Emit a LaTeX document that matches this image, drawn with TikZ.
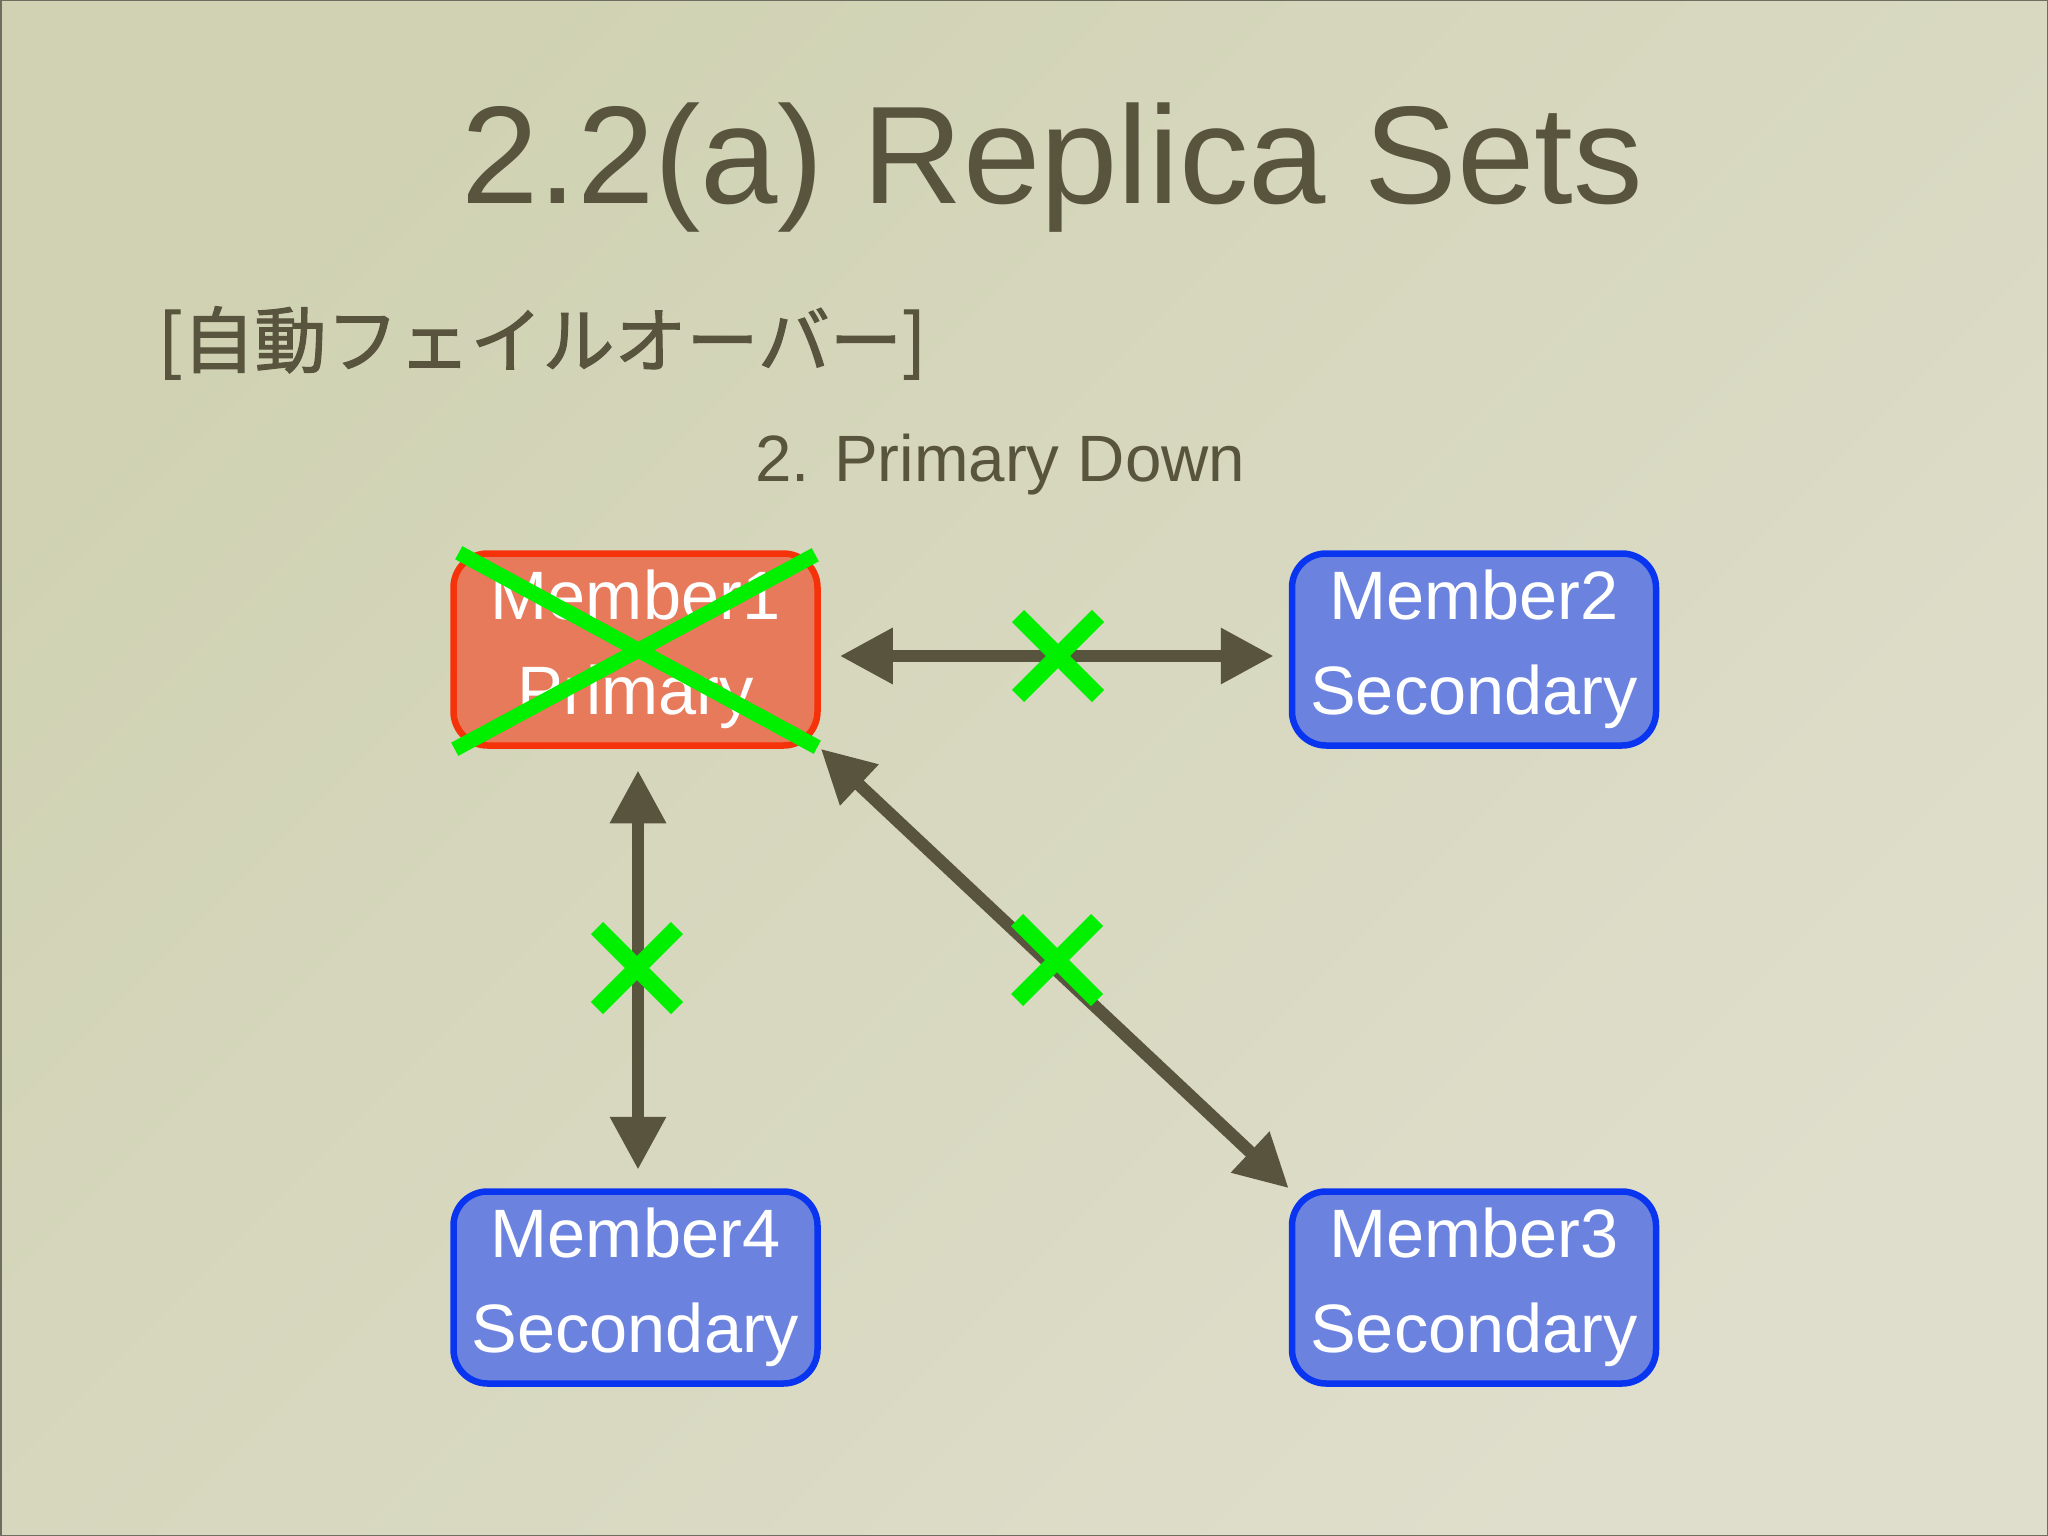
\documentclass[tikz,border=0pt]{standalone}
\usepackage{fontspec}
\setmainfont{Liberation Sans}
\newfontfamily\jp[FakeBold=1.6]{Noto Sans CJK JP}
\usetikzlibrary{arrows.meta,calc}
\definecolor{bgone}{HTML}{D0D2B3}
\definecolor{bgtwo}{HTML}{DFDECC}
\definecolor{framec}{HTML}{6E6E60}
\definecolor{ink}{HTML}{58543E}
\definecolor{redf}{HTML}{E87A5C}
\definecolor{redb}{HTML}{F5320A}
\definecolor{bluef}{HTML}{6B83DE}
\definecolor{blueb}{HTML}{0A35F0}
\definecolor{crossc}{HTML}{00F000}
\tikzset{
  member/.style={rounded corners=34pt, minimum width=364pt, minimum height=192pt,
    line width=6.5pt, text=white, align=center, inner sep=0pt,
    font=\fontsize{68.5pt}{95pt}\selectfont},
  redbox/.style={member, draw=redb, fill=redf},
  bluebox/.style={member, draw=blueb, fill=bluef},
  conn/.style={draw=ink, line width=12.5pt,
    {Triangle[length=53pt,width=53pt]}-{Triangle[length=53pt,width=53pt]}},
  failx/.pic={\draw[crossc, line width=17pt] (-40,-40) -- (40,40) (-40,40) -- (40,-40);},
  heading/.style={anchor=base west, inner sep=0pt, text=ink}
}
\begin{document}
\begin{tikzpicture}[x=1pt,y=-1pt]
\useasboundingbox (0,0) rectangle (2048,1536);
\shade[top color=bgone, bottom color=bgtwo, shading angle=45] (0,0) rectangle (2048,1536);
\draw[framec, line width=3pt] (0,0) rectangle (2048,1536);

\node[heading, font=\fontsize{139pt}{139pt}\selectfont] (title) at (461,203) {2.2(a) Replica Sets};
\node[heading, font=\jp\fontsize{72pt}{72pt}\selectfont] (sub) at (158,367) {[自動フェイルオーバー]};
\node[heading, font=\fontsize{65.5pt}{65.5pt}\selectfont] (cap) at (755,481) {2. Primary Down};

\node[redbox] (m1) at (635.5,649.5) {Member1\\Primary};
\node[bluebox] (m2) at (1474,649.5) {Member2\\Secondary};
\node[bluebox] (m4) at (635.5,1287.5) {Member4\\Secondary};
\node[bluebox] (m3) at (1474,1287.5) {Member3\\Secondary};

\draw[conn] ($(m1.east)+(19,6.5)$) -- ($(m2.west)+(-15,6.5)$);
\draw[conn] ($(m1.south)+(2.5,21.5)$) -- ($(m4.north)+(2.5,-18.5)$);
\draw[conn] (m1.south east) -- (m3.north west);

\draw[crossc, line width=15pt] ($(m1.north west)+(8.5,2.5)$) -- ($(m1.south east)+(-3.5,-1.5)$);
\draw[crossc, line width=15pt] ($(m1.north east)+(-5.5,4.5)$) -- ($(m1.south west)+(4.5,0.5)$);

\coordinate (x1) at (1058,656);
\coordinate (x2) at (637,968);
\coordinate (x3) at (1057,960);
\pic at (x1) {failx};
\pic at (x2) {failx};
\pic at (x3) {failx};
\end{tikzpicture}
\end{document}
